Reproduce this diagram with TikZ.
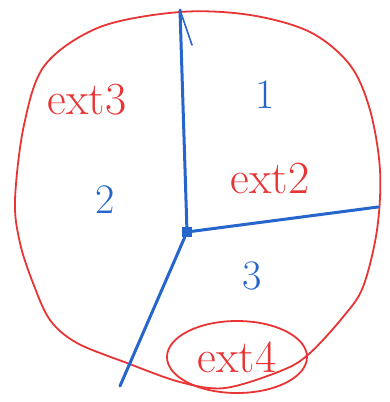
\documentclass[tikz,border=0pt]{standalone}
\usetikzlibrary{shapes.geometric}
\definecolor{penred}{RGB}{232,52,52}
\definecolor{penblue}{RGB}{38,102,204}
\tikzset{
    region edge/.style = {draw=penblue, line width=3pt, line cap=round},
    outer edge/.style = {draw=penred, line width=1.8pt},
    face label/.style = {text=penblue, font=\fontsize{42}{46}\selectfont},
    ext label/.style = {text=penred, font=\fontsize{46}{50}\selectfont},
}
\begin{document}
\begin{tikzpicture}[x=1pt, y=-1pt]
                \useasboundingbox (0,0) rectangle (389,402);
                % outer face boundary
                \draw[outer edge] plot[smooth cycle, tension=0.55] coordinates {
                    (180,12) (100,27) (45,65) (24,125) (15,200) (20,243) (33,283)
                    (50,320) (77,343) (127,363) (180,382) (225,388) (283,370)
                    (310,353) (343,317) (363,287) (377,230) (380,170) (370,110)
                    (350,65) (310,32) (250,15)};

                \node[fill=penblue, minimum size=10pt, inner sep=0pt] (v) at (187,232) {};
                \coordinate (top) at (180,10);
                \coordinate (hook) at (192,45);
                \coordinate (right) at (378,207);
                \coordinate (bottom) at (120,386);

                \draw[region edge] (v) -- (top);
                \draw[region edge, line width=1.6pt] (top) -- (hook);
                \draw[region edge] (v) -- (right);
                \draw[region edge] (v) -- (bottom);

                \node[face label] (f1) at (265,95) {1};
                \node[face label] (f2) at (105,200) {2};
                \node[face label] (f3) at (252,276) {3};

                \node[ext label] (e3) at (87,100) {ext3};
                \node[ext label] (e2) at (270,178) {ext2};
                \node[ext label, ellipse, draw=penred, line width=1.8pt,
                      minimum width=140pt, minimum height=72pt, inner sep=0pt] (e4) at (237,357) {ext4};
            \end{tikzpicture}
\end{document}
